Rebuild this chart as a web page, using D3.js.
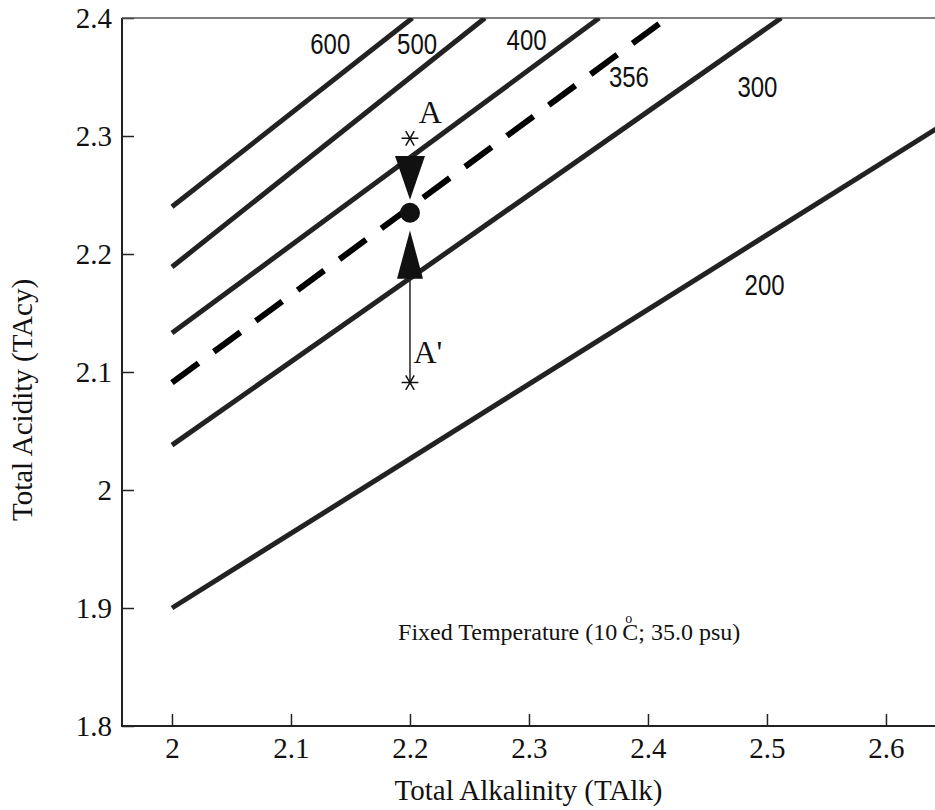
<!DOCTYPE html>
<html>
<head>
<meta charset="utf-8">
<script src="https://cdn.jsdelivr.net/npm/d3@7/dist/d3.min.js"></script>
<style>
  body { margin: 0; background: #fff; }
  svg { display: block; }
</style>
</head>
<body>
<div class="canvas"></div>
<script>
// isolines of pCO2 (uatm): value at TAlk = 2.0, and where each line leaves the frame
const pco2Labels = ['600', '500', '400', '356', '300', '200'];
const startAlk = [2.0, 2.0, 2.0, 2.0, 2.0, 2.0];
const startAcy = [2.24, 2.189, 2.133, 2.091, 2.038, 1.9];
const endAlk = [2.202, 2.263, 2.359, 2.416, 2.512, 2.65];
const endAcy = [2.4, 2.4, 2.4, 2.4, 2.4, 2.311];
const dashed = [false, false, false, true, false, false];

// where the line labels sit
const labelAlk = [2.133, 2.206, 2.298, 2.384, 2.492, 2.498];
const labelAcy = [2.379, 2.379, 2.382, 2.351, 2.342, 2.174];

// points A and A' and the equilibrium point
const pointNames = ['A', "A'"];
const pointAlk = [2.2, 2.2];
const pointAcy = [2.298, 2.091];
const nameAlk = [2.217, 2.215];
const nameAcy = [2.32, 2.117];
const eqAlk = 2.2;
const eqAcy = 2.235;

// arrow heads: base on an isoline, tip at the equilibrium point
const arrowBase = [2.283, 2.179];
const arrowTip = [2.246, 2.22];

const xTicks = [2, 2.1, 2.2, 2.3, 2.4, 2.5, 2.6];
const yTicks = [1.8, 1.9, 2, 2.1, 2.2, 2.3, 2.4];

const width = 935;
const height = 810;
const margin = { top: 18, right: 0, bottom: 84, left: 122 };
const graphWidth = width - margin.left - margin.right;
const graphHeight = height - margin.top - margin.bottom;

const svg = d3
  .select('.canvas')
  .append('svg')
  .attr('width', width)
  .attr('height', height);

const graph = svg
  .append('g')
  .attr('transform', `translate(${margin.left}, ${margin.top})`);

//scales
const x = d3.scaleLinear().domain([1.958, 2.6412]).range([0, graphWidth]);
const y = d3.scaleLinear().domain([1.8, 2.4]).range([graphHeight, 0]);

const serif = '"Liberation Serif", "Times New Roman", serif';
const sans = '"Liberation Sans", Arial, sans-serif';

//axes
const xAxis = d3
  .axisBottom(x)
  .tickValues(xTicks)
  .tickSizeInner(-12)
  .tickSizeOuter(0)
  .tickPadding(11)
  .tickFormat(d3.format('~g'));
const yAxis = d3
  .axisLeft(y)
  .tickValues(yTicks)
  .tickSizeInner(-12)
  .tickSizeOuter(0)
  .tickPadding(10)
  .tickFormat(d3.format('~g'));

const xAxisGroup = graph
  .append('g')
  .attr('transform', `translate(0, ${graphHeight})`)
  .call(xAxis);
const yAxisGroup = graph.append('g').call(yAxis);

[xAxisGroup, yAxisGroup].forEach((g) => {
  g.select('.domain').remove();
  g.selectAll('line').attr('stroke', '#222').attr('stroke-width', 1.5);
  g.selectAll('text')
    .attr('font-family', serif)
    .attr('font-size', 29)
    .attr('fill', '#111');
});

//frame: left and bottom, thin top
graph
  .append('path')
  .attr('d', `M0,0V${graphHeight}H${graphWidth}`)
  .attr('fill', 'none')
  .attr('stroke', '#222')
  .attr('stroke-width', 2);
graph
  .append('line')
  .attr('x1', 0)
  .attr('x2', graphWidth)
  .attr('y1', 0)
  .attr('y2', 0)
  .attr('stroke', '#555')
  .attr('stroke-width', 1.5);

//isolines
const lines = pco2Labels.map((name, i) => ({
  name,
  pts: [
    [startAlk[i], startAcy[i]],
    [endAlk[i], endAcy[i]],
  ],
  dashed: dashed[i],
}));

graph
  .append('defs')
  .append('clipPath')
  .attr('id', 'plot')
  .append('rect')
  .attr('width', graphWidth)
  .attr('height', graphHeight);

const line = d3
  .line()
  .x((d) => x(d[0]))
  .y((d) => y(d[1]));

graph
  .append('g')
  .attr('clip-path', 'url(#plot)')
  .selectAll('path')
  .data(lines)
  .enter()
  .append('path')
  .attr('d', (d) => line(d.pts))
  .attr('fill', 'none')
  .attr('stroke', (d) => (d.dashed ? '#000' : '#222'))
  .attr('stroke-width', (d) => (d.dashed ? 6 : 5))
  .attr('stroke-dasharray', (d) => (d.dashed ? '33 19' : null));

//line labels, narrow type
graph
  .selectAll('.iso-label')
  .data(pco2Labels)
  .enter()
  .append('text')
  .attr('class', 'iso-label')
  .attr('transform', (d, i) => `translate(${x(labelAlk[i])}, ${y(labelAcy[i])}) scale(0.8, 1)`)
  .attr('dy', '0.36em')
  .attr('text-anchor', 'middle')
  .attr('font-family', sans)
  .attr('font-size', 30)
  .attr('fill', '#111')
  .text((d) => d);

//thin line from A' up to the 300 line
graph
  .append('line')
  .attr('x1', x(pointAlk[1]))
  .attr('x2', x(pointAlk[1]))
  .attr('y1', y(pointAcy[1]))
  .attr('y2', y(arrowBase[1]))
  .attr('stroke', '#222')
  .attr('stroke-width', 1.5);

//arrow heads
const halfWidth = [15, 13];
graph
  .selectAll('.arrow')
  .data(arrowBase)
  .enter()
  .append('path')
  .attr('class', 'arrow')
  .attr('d', (d, i) => {
    const cx = x(eqAlk);
    return `M${cx - halfWidth[i]},${y(d)}L${cx + halfWidth[i]},${y(d)}L${cx},${y(arrowTip[i])}Z`;
  })
  .attr('fill', '#111');

//equilibrium point
graph
  .append('circle')
  .attr('cx', x(eqAlk))
  .attr('cy', y(eqAcy))
  .attr('r', 10)
  .attr('fill', '#111');

//stars
graph
  .selectAll('.star')
  .data(pointAlk)
  .enter()
  .append('path')
  .attr('class', 'star')
  .attr('transform', (d, i) => `translate(${x(d)}, ${y(pointAcy[i])}) rotate(90)`)
  .attr('d', d3.symbol(d3.symbolAsterisk, 200))
  .attr('fill', 'none')
  .attr('stroke', '#111')
  .attr('stroke-width', 1.5);

//point names
graph
  .selectAll('.pname')
  .data(pointNames)
  .enter()
  .append('text')
  .attr('class', 'pname')
  .attr('x', (d, i) => x(nameAlk[i]))
  .attr('y', (d, i) => y(nameAcy[i]))
  .attr('dy', '0.34em')
  .attr('text-anchor', 'middle')
  .attr('font-family', serif)
  .attr('font-size', 32)
  .attr('fill', '#111')
  .text((d) => d);

//annotation, degree sign set above the C
const note = graph
  .append('text')
  .attr('x', x(2.19))
  .attr('y', y(1.873))
  .attr('font-family', serif)
  .attr('font-size', 24)
  .attr('fill', '#111');
note.append('tspan').text('Fixed Temperature (10 ');
note.append('tspan').attr('font-size', 14).attr('dx', 2).attr('dy', -17).text('o');
note.append('tspan').attr('dx', -10).attr('dy', 17).text('C; 35.0 psu)');

//axis titles
svg
  .append('text')
  .attr('x', margin.left + graphWidth / 2)
  .attr('y', 800)
  .attr('text-anchor', 'middle')
  .attr('font-family', serif)
  .attr('font-size', 29)
  .attr('fill', '#111')
  .text('Total Alkalinity (TAlk)');

svg
  .append('text')
  .attr('transform', 'translate(32, 400) rotate(-90)')
  .attr('text-anchor', 'middle')
  .attr('font-family', serif)
  .attr('font-size', 29)
  .attr('fill', '#111')
  .text('Total Acidity (TAcy)');
</script>
</body>
</html>
